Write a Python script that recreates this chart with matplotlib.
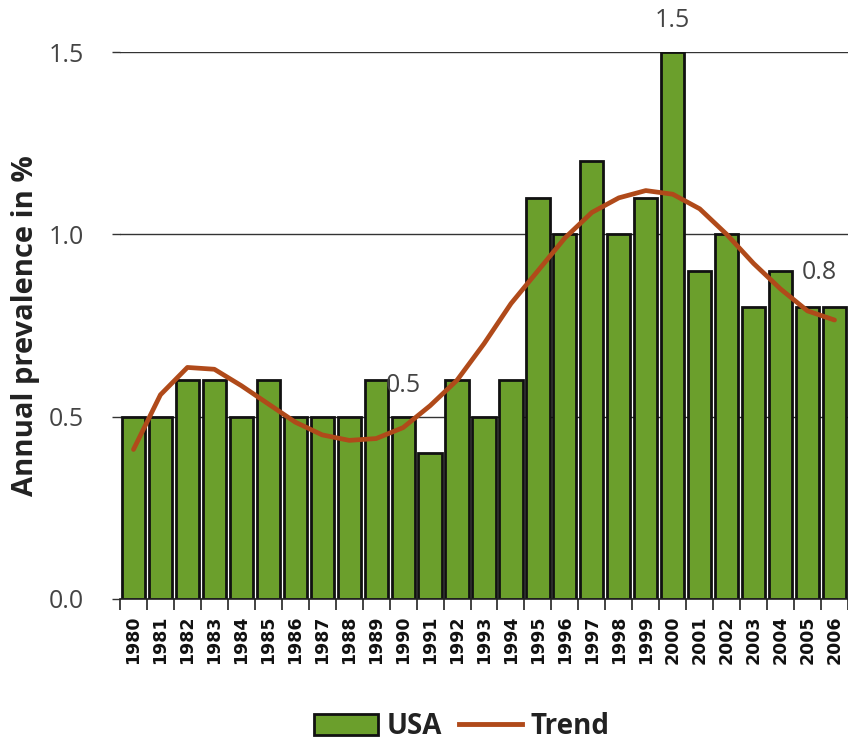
import numpy as np
import matplotlib
matplotlib.use("Agg")
import matplotlib.pyplot as plt
from matplotlib.patches import Patch
from matplotlib.lines import Line2D

years = [str(y) for y in range(1980, 2007)]
usa = [0.5, 0.5, 0.6, 0.6, 0.5, 0.6, 0.5, 0.5, 0.5, 0.6, 0.5, 0.4, 0.6, 0.5,
       0.6, 1.1, 1.0, 1.2, 1.0, 1.1, 1.5, 0.9, 1.0, 0.8, 0.9, 0.8, 0.8]
trend = [0.41, 0.56, 0.635, 0.63, 0.585, 0.535, 0.485, 0.45, 0.435, 0.44, 0.47,
         0.53, 0.60, 0.70, 0.81, 0.90, 0.99, 1.06, 1.10, 1.12, 1.11, 1.07,
         1.00, 0.92, 0.85, 0.79, 0.765]
labels = [(10, 0.586, "0.5"), (20, 1.586, "1.5"), (25.45, 0.896, "0.8")]

green = "#6b9f2c"
brown = "#b04a1a"
txt = "#444444"

plt.rcParams['font.family'] = ['Open Sans', 'DejaVu Sans']

fig = plt.figure(figsize=(8.48, 7.44), dpi=100)
ax = fig.add_axes([120/848, 1-599/744, 1-120/848, (599-52)/744])

x = np.arange(len(years))
ax.bar(x, usa, width=0.86, color=green, edgecolor="#111111", linewidth=2, zorder=2)
ax.plot(x, trend, color=brown, linewidth=3.4, solid_capstyle="round", zorder=3)

for xi, yi, s in labels:
    ax.text(xi, yi, s, ha="center", va="center", fontsize=18, color=txt,
            clip_on=False, zorder=4)

ax.set_xlim(-0.5, len(years) - 0.5)
ax.set_ylim(0, 1.5)
ax.set_yticks([0, 0.5, 1.0, 1.5])
ax.set_yticklabels(["0.0", "0.5", "1.0", "1.5"], fontsize=18, color=txt)
ax.tick_params(axis="y", length=6, width=1, color="#333333", pad=20)
ax.yaxis.grid(True, color="#333333", linewidth=1)
ax.set_axisbelow(True)

ax.set_xticks(x)
ax.set_xticklabels(years, rotation=90, fontsize=12.5, fontweight="bold",
                   family=["Liberation Sans Narrow", "DejaVu Sans"], color="#111111")
ax.tick_params(axis="x", length=0, pad=12)
ax.set_xticks(np.arange(-0.5, len(years), 1), minor=True)
ax.tick_params(axis="x", which="minor", length=8, width=1.2, color="#222222")

for sp in ["top", "right", "left"]:
    ax.spines[sp].set_visible(False)
ax.spines["bottom"].set_color("#222222")
ax.spines["bottom"].set_linewidth(1.2)

ax.set_ylabel("Annual prevalence in %", fontsize=21, fontweight="bold",
              color="#222222", labelpad=6)

handles = [Patch(facecolor=green, edgecolor="#111111", linewidth=2, label="USA"),
           Line2D([0], [0], color=brown, linewidth=3.5, label="Trend")]
fig.legend(handles=handles, loc="center", bbox_to_anchor=(462/848, 1-727/744),
           ncol=2, frameon=False, prop={"weight": "bold", "size": 20},
           handlelength=2.3, handleheight=0.8, handletextpad=0.3, columnspacing=0.6,
           labelcolor="#222222")

fig.savefig("out.png", dpi=100)
